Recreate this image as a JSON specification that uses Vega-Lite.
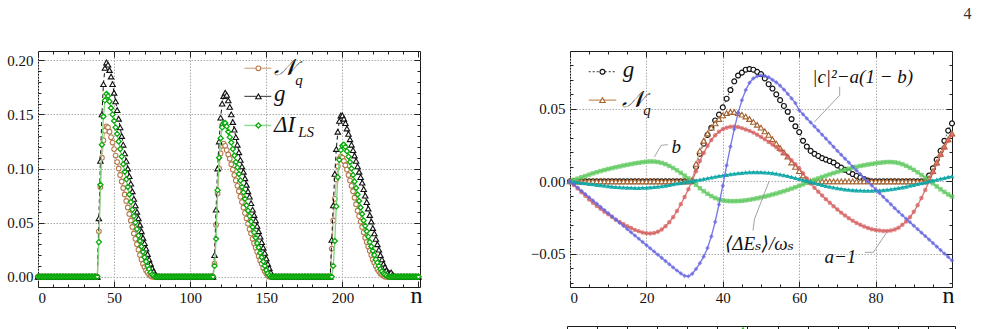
{
  "$schema": "https://vega.github.io/schema/vega-lite/v6.json",
  "background": "white",
  "padding": {"left": 6, "top": 6, "right": 5, "bottom": 5},
  "title": {"text": "4", "anchor": "end", "frame": "bounds", "font": "Liberation Serif, Times New Roman, DejaVu Serif, serif", "fontSize": 16, "fontWeight": "normal", "color": "#333", "dx": 14, "offset": 28},
  "config": {
    "view": {"stroke": "#1a1a1a", "strokeWidth": 1},
    "font": "Liberation Serif, Times New Roman, DejaVu Serif, serif",
    "axis": {"labelFont": "Liberation Serif, Times New Roman, DejaVu Serif, serif", "titleFont": "Liberation Serif, Times New Roman, DejaVu Serif, serif"},
    "text": {"font": "Liberation Serif, Times New Roman, DejaVu Serif, serif"}
  },
  "spacing": 16,
  "datasets": {
    "pulses": [
      {"n":0,"Nq":0,"g":0,"dI":0},{"n":1,"Nq":0,"g":0,"dI":0},{"n":2,"Nq":0,"g":0,"dI":0},{"n":3,"Nq":0,"g":0,"dI":0},{"n":4,"Nq":0,"g":0,"dI":0},
      {"n":5,"Nq":0,"g":0,"dI":0},{"n":6,"Nq":0,"g":0,"dI":0},{"n":7,"Nq":0,"g":0,"dI":0},{"n":8,"Nq":0,"g":0,"dI":0},{"n":9,"Nq":0,"g":0,"dI":0},
      {"n":10,"Nq":0,"g":0,"dI":0},{"n":11,"Nq":0,"g":0,"dI":0},{"n":12,"Nq":0,"g":0,"dI":0},{"n":13,"Nq":0,"g":0,"dI":0},{"n":14,"Nq":0,"g":0,"dI":0},
      {"n":15,"Nq":0,"g":0,"dI":0},{"n":16,"Nq":0,"g":0,"dI":0},{"n":17,"Nq":0,"g":0,"dI":0},{"n":18,"Nq":0,"g":0,"dI":0},{"n":19,"Nq":0,"g":0,"dI":0},
      {"n":20,"Nq":0,"g":0,"dI":0},{"n":21,"Nq":0,"g":0,"dI":0},{"n":22,"Nq":0,"g":0,"dI":0},{"n":23,"Nq":0,"g":0,"dI":0},{"n":24,"Nq":0,"g":0,"dI":0},
      {"n":25,"Nq":0,"g":0,"dI":0},{"n":26,"Nq":0,"g":0,"dI":0},{"n":27,"Nq":0,"g":0,"dI":0},{"n":28,"Nq":0,"g":0,"dI":0},{"n":29,"Nq":0,"g":0,"dI":0},
      {"n":30,"Nq":0,"g":0,"dI":0},{"n":31,"Nq":0,"g":0,"dI":0},{"n":32,"Nq":0,"g":0,"dI":0},{"n":33,"Nq":0,"g":0,"dI":0},{"n":34,"Nq":0,"g":0,"dI":0},
      {"n":35,"Nq":0,"g":0,"dI":0},{"n":36,"Nq":0,"g":0,"dI":0},{"n":37,"Nq":0,"g":0,"dI":0},{"n":38,"Nq":0,"g":0,"dI":0},{"n":39,"Nq":0,"g":0,"dI":0},
      {"n":40,"Nq":0.042,"g":0.054,"dI":0.032},{"n":41,"Nq":0.083,"g":0.107,"dI":0.085},{"n":42,"Nq":0.110,"g":0.150,"dI":0.122},
      {"n":43,"Nq":0.126,"g":0.178,"dI":0.148},{"n":44,"Nq":0.135,"g":0.193,"dI":0.163},{"n":45,"Nq":0.139,"g":0.198,"dI":0.169},
      {"n":46,"Nq":0.138,"g":0.196,"dI":0.167},{"n":47,"Nq":0.134,"g":0.191,"dI":0.162},{"n":48,"Nq":0.129,"g":0.185,"dI":0.156},
      {"n":49,"Nq":0.124,"g":0.178,"dI":0.150},{"n":50,"Nq":0.118,"g":0.170,"dI":0.144},{"n":51,"Nq":0.112,"g":0.162,"dI":0.138},
      {"n":52,"Nq":0.106,"g":0.154,"dI":0.132},{"n":53,"Nq":0.100,"g":0.146,"dI":0.125},{"n":54,"Nq":0.094,"g":0.138,"dI":0.118},
      {"n":55,"Nq":0.088,"g":0.130,"dI":0.111},{"n":56,"Nq":0.082,"g":0.122,"dI":0.104},{"n":57,"Nq":0.076,"g":0.114,"dI":0.097},
      {"n":58,"Nq":0.070,"g":0.107,"dI":0.090},{"n":59,"Nq":0.064,"g":0.100,"dI":0.083},{"n":60,"Nq":0.058,"g":0.093,"dI":0.076},
      {"n":61,"Nq":0.052,"g":0.086,"dI":0.069},{"n":62,"Nq":0.046,"g":0.079,"dI":0.062},{"n":63,"Nq":0.040,"g":0.072,"dI":0.056},
      {"n":64,"Nq":0.035,"g":0.066,"dI":0.050},{"n":65,"Nq":0.030,"g":0.060,"dI":0.044},{"n":66,"Nq":0.025,"g":0.054,"dI":0.038},
      {"n":67,"Nq":0.020,"g":0.048,"dI":0.033},{"n":68,"Nq":0.016,"g":0.042,"dI":0.028},{"n":69,"Nq":0.012,"g":0.036,"dI":0.023},
      {"n":70,"Nq":0.009,"g":0.031,"dI":0.018},{"n":71,"Nq":0.006,"g":0.026,"dI":0.014},{"n":72,"Nq":0.004,"g":0.021,"dI":0.010},
      {"n":73,"Nq":0.002,"g":0.016,"dI":0.007},{"n":74,"Nq":0.001,"g":0.012,"dI":0.004},{"n":75,"Nq":0,"g":0.008,"dI":0.002},
      {"n":76,"Nq":0,"g":0.005,"dI":0.001},{"n":77,"Nq":0,"g":0.002,"dI":0},{"n":78,"Nq":0,"g":0.001,"dI":0},
      {"n":79,"Nq":0,"g":0,"dI":0},{"n":80,"Nq":0,"g":0,"dI":0},{"n":81,"Nq":0,"g":0,"dI":0},{"n":82,"Nq":0,"g":0,"dI":0},{"n":83,"Nq":0,"g":0,"dI":0},
      {"n":84,"Nq":0,"g":0,"dI":0},{"n":85,"Nq":0,"g":0,"dI":0},{"n":86,"Nq":0,"g":0,"dI":0},{"n":87,"Nq":0,"g":0,"dI":0},{"n":88,"Nq":0,"g":0,"dI":0},
      {"n":89,"Nq":0,"g":0,"dI":0},{"n":90,"Nq":0,"g":0,"dI":0},{"n":91,"Nq":0,"g":0,"dI":0},{"n":92,"Nq":0,"g":0,"dI":0},{"n":93,"Nq":0,"g":0,"dI":0},
      {"n":94,"Nq":0,"g":0,"dI":0},{"n":95,"Nq":0,"g":0,"dI":0},{"n":96,"Nq":0,"g":0,"dI":0},{"n":97,"Nq":0,"g":0,"dI":0},{"n":98,"Nq":0,"g":0,"dI":0},
      {"n":99,"Nq":0,"g":0,"dI":0},{"n":100,"Nq":0,"g":0,"dI":0},{"n":101,"Nq":0,"g":0,"dI":0},{"n":102,"Nq":0,"g":0,"dI":0},{"n":103,"Nq":0,"g":0,"dI":0},
      {"n":104,"Nq":0,"g":0,"dI":0},{"n":105,"Nq":0,"g":0,"dI":0},{"n":106,"Nq":0,"g":0,"dI":0},{"n":107,"Nq":0,"g":0,"dI":0},{"n":108,"Nq":0,"g":0,"dI":0},
      {"n":109,"Nq":0,"g":0,"dI":0},{"n":110,"Nq":0,"g":0,"dI":0},{"n":111,"Nq":0,"g":0,"dI":0},{"n":112,"Nq":0,"g":0,"dI":0},{"n":113,"Nq":0,"g":0,"dI":0},
      {"n":114,"Nq":0,"g":0,"dI":0},{"n":115,"Nq":0,"g":0,"dI":0},
      {"n":116,"Nq":0.012,"g":0.020,"dI":0.010},{"n":117,"Nq":0.048,"g":0.062,"dI":0.035},{"n":118,"Nq":0.077,"g":0.100,"dI":0.080},
      {"n":119,"Nq":0.100,"g":0.125,"dI":0.110},{"n":120,"Nq":0.114,"g":0.147,"dI":0.128},{"n":121,"Nq":0.121,"g":0.160,"dI":0.138},
      {"n":122,"Nq":0.123,"g":0.167,"dI":0.142},{"n":123,"Nq":0.121,"g":0.170,"dI":0.142},{"n":124,"Nq":0.117,"g":0.168,"dI":0.139},
      {"n":125,"Nq":0.113,"g":0.163,"dI":0.134},{"n":126,"Nq":0.109,"g":0.157,"dI":0.129},{"n":127,"Nq":0.104,"g":0.150,"dI":0.124},
      {"n":128,"Nq":0.099,"g":0.143,"dI":0.118},{"n":129,"Nq":0.094,"g":0.136,"dI":0.112},{"n":130,"Nq":0.089,"g":0.129,"dI":0.106},
      {"n":131,"Nq":0.084,"g":0.122,"dI":0.101},{"n":132,"Nq":0.079,"g":0.115,"dI":0.095},{"n":133,"Nq":0.074,"g":0.108,"dI":0.089},
      {"n":134,"Nq":0.069,"g":0.102,"dI":0.083},{"n":135,"Nq":0.064,"g":0.097,"dI":0.078},{"n":136,"Nq":0.059,"g":0.091,"dI":0.072},
      {"n":137,"Nq":0.054,"g":0.085,"dI":0.066},{"n":138,"Nq":0.049,"g":0.079,"dI":0.061},{"n":139,"Nq":0.044,"g":0.074,"dI":0.056},
      {"n":140,"Nq":0.040,"g":0.068,"dI":0.051},{"n":141,"Nq":0.035,"g":0.062,"dI":0.046},{"n":142,"Nq":0.031,"g":0.057,"dI":0.041},
      {"n":143,"Nq":0.027,"g":0.052,"dI":0.036},{"n":144,"Nq":0.023,"g":0.047,"dI":0.031},{"n":145,"Nq":0.019,"g":0.042,"dI":0.027},
      {"n":146,"Nq":0.015,"g":0.037,"dI":0.022},{"n":147,"Nq":0.012,"g":0.032,"dI":0.018},{"n":148,"Nq":0.008,"g":0.027,"dI":0.014},
      {"n":149,"Nq":0.005,"g":0.022,"dI":0.010},{"n":150,"Nq":0.003,"g":0.017,"dI":0.006},{"n":151,"Nq":0.001,"g":0.012,"dI":0.003},
      {"n":152,"Nq":0,"g":0.008,"dI":0.001},{"n":153,"Nq":0,"g":0.004,"dI":0},{"n":154,"Nq":0,"g":0.001,"dI":0},
      {"n":155,"Nq":0,"g":0,"dI":0},{"n":156,"Nq":0,"g":0,"dI":0},{"n":157,"Nq":0,"g":0,"dI":0},{"n":158,"Nq":0,"g":0,"dI":0},{"n":159,"Nq":0,"g":0,"dI":0},
      {"n":160,"Nq":0,"g":0,"dI":0},{"n":161,"Nq":0,"g":0,"dI":0},{"n":162,"Nq":0,"g":0,"dI":0},{"n":163,"Nq":0,"g":0,"dI":0},{"n":164,"Nq":0,"g":0,"dI":0},
      {"n":165,"Nq":0,"g":0,"dI":0},{"n":166,"Nq":0,"g":0,"dI":0},{"n":167,"Nq":0,"g":0,"dI":0},{"n":168,"Nq":0,"g":0,"dI":0},{"n":169,"Nq":0,"g":0,"dI":0},
      {"n":170,"Nq":0,"g":0,"dI":0},{"n":171,"Nq":0,"g":0,"dI":0},{"n":172,"Nq":0,"g":0,"dI":0},{"n":173,"Nq":0,"g":0,"dI":0},{"n":174,"Nq":0,"g":0,"dI":0},
      {"n":175,"Nq":0,"g":0,"dI":0},{"n":176,"Nq":0,"g":0,"dI":0},{"n":177,"Nq":0,"g":0,"dI":0},{"n":178,"Nq":0,"g":0,"dI":0},{"n":179,"Nq":0,"g":0,"dI":0},
      {"n":180,"Nq":0,"g":0,"dI":0},{"n":181,"Nq":0,"g":0,"dI":0},{"n":182,"Nq":0,"g":0,"dI":0},{"n":183,"Nq":0,"g":0,"dI":0},{"n":184,"Nq":0,"g":0,"dI":0},
      {"n":185,"Nq":0,"g":0,"dI":0},{"n":186,"Nq":0,"g":0,"dI":0},{"n":187,"Nq":0,"g":0,"dI":0},{"n":188,"Nq":0,"g":0,"dI":0},{"n":189,"Nq":0,"g":0,"dI":0},
      {"n":190,"Nq":0,"g":0,"dI":0},{"n":191,"Nq":0,"g":0,"dI":0},{"n":192,"Nq":0,"g":0,"dI":0},
      {"n":193,"Nq":0.026,"g":0.034,"dI":0},{"n":194,"Nq":0.052,"g":0.066,"dI":0.010},{"n":195,"Nq":0.072,"g":0.095,"dI":0.033},
      {"n":196,"Nq":0.090,"g":0.118,"dI":0.065},{"n":197,"Nq":0.102,"g":0.134,"dI":0.092},{"n":198,"Nq":0.109,"g":0.144,"dI":0.108},
      {"n":199,"Nq":0.111,"g":0.149,"dI":0.117},{"n":200,"Nq":0.110,"g":0.149,"dI":0.121},{"n":201,"Nq":0.107,"g":0.146,"dI":0.122},
      {"n":202,"Nq":0.103,"g":0.142,"dI":0.120},{"n":203,"Nq":0.099,"g":0.137,"dI":0.116},{"n":204,"Nq":0.094,"g":0.132,"dI":0.111},
      {"n":205,"Nq":0.089,"g":0.127,"dI":0.106},{"n":206,"Nq":0.084,"g":0.122,"dI":0.100},{"n":207,"Nq":0.079,"g":0.117,"dI":0.094},
      {"n":208,"Nq":0.073,"g":0.112,"dI":0.088},{"n":209,"Nq":0.067,"g":0.107,"dI":0.082},{"n":210,"Nq":0.061,"g":0.102,"dI":0.076},
      {"n":211,"Nq":0.056,"g":0.097,"dI":0.070},{"n":212,"Nq":0.051,"g":0.092,"dI":0.064},{"n":213,"Nq":0.046,"g":0.087,"dI":0.058},
      {"n":214,"Nq":0.041,"g":0.081,"dI":0.052},{"n":215,"Nq":0.036,"g":0.075,"dI":0.047},{"n":216,"Nq":0.032,"g":0.069,"dI":0.042},
      {"n":217,"Nq":0.028,"g":0.063,"dI":0.037},{"n":218,"Nq":0.024,"g":0.057,"dI":0.032},{"n":219,"Nq":0.020,"g":0.051,"dI":0.028},
      {"n":220,"Nq":0.016,"g":0.045,"dI":0.024},{"n":221,"Nq":0.013,"g":0.040,"dI":0.020},{"n":222,"Nq":0.010,"g":0.035,"dI":0.016},
      {"n":223,"Nq":0.007,"g":0.030,"dI":0.013},{"n":224,"Nq":0.005,"g":0.025,"dI":0.010},{"n":225,"Nq":0.003,"g":0.020,"dI":0.007},
      {"n":226,"Nq":0.002,"g":0.016,"dI":0.005},{"n":227,"Nq":0.001,"g":0.012,"dI":0.003},{"n":228,"Nq":0,"g":0.009,"dI":0.002},
      {"n":229,"Nq":0,"g":0.006,"dI":0.001},{"n":230,"Nq":0,"g":0.004,"dI":0},{"n":231,"Nq":0,"g":0.003,"dI":0},
      {"n":232,"Nq":0,"g":0.004,"dI":0},{"n":233,"Nq":0,"g":0.002,"dI":0},
      {"n":234,"Nq":0,"g":0,"dI":0},{"n":235,"Nq":0,"g":0,"dI":0},{"n":236,"Nq":0,"g":0,"dI":0},{"n":237,"Nq":0,"g":0,"dI":0},{"n":238,"Nq":0,"g":0,"dI":0},
      {"n":239,"Nq":0,"g":0,"dI":0},{"n":240,"Nq":0,"g":0,"dI":0},{"n":241,"Nq":0,"g":0,"dI":0},{"n":242,"Nq":0,"g":0,"dI":0},{"n":243,"Nq":0,"g":0,"dI":0},
      {"n":244,"Nq":0,"g":0,"dI":0},{"n":245,"Nq":0,"g":0,"dI":0},{"n":246,"Nq":0,"g":0,"dI":0},{"n":247,"Nq":0,"g":0,"dI":0},{"n":248,"Nq":0,"g":0,"dI":0},
      {"n":249,"Nq":0,"g":0,"dI":0},{"n":250,"Nq":0,"g":0,"dI":0}
    ],
    "cycle": [
      {"n":0,"g":0,"Nq":0,"b":0,"a":0,"c":0,"E":0},
      {"n":1,"g":0,"Nq":0,"b":0.001,"a":-0.0025,"c":-0.0022,"E":-0.0003},
      {"n":2,"g":0,"Nq":0,"b":0.0019,"a":-0.005,"c":-0.0044,"E":-0.0006},
      {"n":3,"g":0,"Nq":0,"b":0.0028,"a":-0.0075,"c":-0.0066,"E":-0.001},
      {"n":4,"g":0,"Nq":0,"b":0.0037,"a":-0.01,"c":-0.0088,"E":-0.0013},
      {"n":5,"g":0,"Nq":0,"b":0.0046,"a":-0.0125,"c":-0.011,"E":-0.0017},
      {"n":6,"g":0,"Nq":0,"b":0.0055,"a":-0.0148,"c":-0.0132,"E":-0.002},
      {"n":7,"g":0,"Nq":0,"b":0.0063,"a":-0.017,"c":-0.0154,"E":-0.0024},
      {"n":8,"g":0,"Nq":0,"b":0.0071,"a":-0.019,"c":-0.0176,"E":-0.0027},
      {"n":9,"g":0,"Nq":0,"b":0.0078,"a":-0.021,"c":-0.0198,"E":-0.003},
      {"n":10,"g":0,"Nq":0,"b":0.0085,"a":-0.0228,"c":-0.022,"E":-0.0033},
      {"n":11,"g":0,"Nq":0,"b":0.0091,"a":-0.0246,"c":-0.0242,"E":-0.0036},
      {"n":12,"g":0,"Nq":0,"b":0.0097,"a":-0.0265,"c":-0.0264,"E":-0.0038},
      {"n":13,"g":0,"Nq":0,"b":0.0103,"a":-0.028,"c":-0.0286,"E":-0.004},
      {"n":14,"g":0,"Nq":0,"b":0.0109,"a":-0.0295,"c":-0.0308,"E":-0.0042},
      {"n":15,"g":0,"Nq":0,"b":0.0114,"a":-0.031,"c":-0.033,"E":-0.0043},
      {"n":16,"g":0,"Nq":0,"b":0.0119,"a":-0.0322,"c":-0.0352,"E":-0.0044},
      {"n":17,"g":0,"Nq":0,"b":0.0124,"a":-0.0335,"c":-0.0374,"E":-0.0045},
      {"n":18,"g":0,"Nq":0,"b":0.0128,"a":-0.0345,"c":-0.0396,"E":-0.0045},
      {"n":19,"g":0,"Nq":0,"b":0.0132,"a":-0.0353,"c":-0.0418,"E":-0.0044},
      {"n":20,"g":0,"Nq":0,"b":0.0135,"a":-0.0358,"c":-0.044,"E":-0.0043},
      {"n":21,"g":0,"Nq":0,"b":0.0137,"a":-0.036,"c":-0.0462,"E":-0.0041},
      {"n":22,"g":0,"Nq":0,"b":0.0136,"a":-0.0357,"c":-0.0484,"E":-0.0039},
      {"n":23,"g":0,"Nq":0,"b":0.0133,"a":-0.0348,"c":-0.0506,"E":-0.0036},
      {"n":24,"g":0,"Nq":0,"b":0.0127,"a":-0.0333,"c":-0.0528,"E":-0.0033},
      {"n":25,"g":0,"Nq":0,"b":0.0118,"a":-0.031,"c":-0.055,"E":-0.0029},
      {"n":26,"g":0,"Nq":0,"b":0.0106,"a":-0.0282,"c":-0.0572,"E":-0.0025},
      {"n":27,"g":0,"Nq":0,"b":0.0092,"a":-0.0247,"c":-0.0594,"E":-0.002},
      {"n":28,"g":0,"Nq":0,"b":0.0076,"a":-0.0205,"c":-0.0615,"E":-0.0015},
      {"n":29,"g":0,"Nq":0,"b":0.0058,"a":-0.0158,"c":-0.0635,"E":-0.001},
      {"n":30,"g":0,"Nq":0,"b":0.0039,"a":-0.0108,"c":-0.0652,"E":-0.0006},
      {"n":31,"g":0,"Nq":0,"b":0.002,"a":-0.0055,"c":-0.0655,"E":-0.0002},
      {"n":32,"g":0,"Nq":0.001,"b":0,"a":0.0005,"c":-0.0638,"E":0.0002},
      {"n":33,"g":0.010,"Nq":0.012,"b":-0.0024,"a":0.007,"c":-0.0605,"E":0.0007},
      {"n":34,"g":0.019,"Nq":0.021,"b":-0.0048,"a":0.014,"c":-0.0565,"E":0.0012},
      {"n":35,"g":0.026,"Nq":0.028,"b":-0.0068,"a":0.0195,"c":-0.052,"E":0.0017},
      {"n":36,"g":0.032,"Nq":0.033,"b":-0.0086,"a":0.0245,"c":-0.046,"E":0.0022},
      {"n":37,"g":0.037,"Nq":0.037,"b":-0.0102,"a":0.0285,"c":-0.038,"E":0.0027},
      {"n":38,"g":0.042,"Nq":0.040,"b":-0.0115,"a":0.0318,"c":-0.028,"E":0.0032},
      {"n":39,"g":0.046,"Nq":0.043,"b":-0.0125,"a":0.0342,"c":-0.016,"E":0.0037},
      {"n":40,"g":0.051,"Nq":0.0455,"b":-0.0131,"a":0.036,"c":-0.003,"E":0.0041},
      {"n":41,"g":0.057,"Nq":0.047,"b":-0.0135,"a":0.037,"c":0.011,"E":0.0045},
      {"n":42,"g":0.063,"Nq":0.048,"b":-0.0137,"a":0.0377,"c":0.024,"E":0.0049},
      {"n":43,"g":0.069,"Nq":0.0478,"b":-0.0137,"a":0.0378,"c":0.036,"E":0.0053},
      {"n":44,"g":0.073,"Nq":0.047,"b":-0.0136,"a":0.0374,"c":0.047,"E":0.0056},
      {"n":45,"g":0.075,"Nq":0.046,"b":-0.0134,"a":0.0367,"c":0.056,"E":0.0059},
      {"n":46,"g":0.077,"Nq":0.0447,"b":-0.0131,"a":0.0358,"c":0.063,"E":0.0061},
      {"n":47,"g":0.0775,"Nq":0.043,"b":-0.0127,"a":0.0348,"c":0.068,"E":0.0063},
      {"n":48,"g":0.077,"Nq":0.041,"b":-0.0122,"a":0.0336,"c":0.071,"E":0.0064},
      {"n":49,"g":0.0755,"Nq":0.039,"b":-0.0117,"a":0.0322,"c":0.0725,"E":0.0064},
      {"n":50,"g":0.074,"Nq":0.037,"b":-0.0111,"a":0.0306,"c":0.073,"E":0.0063},
      {"n":51,"g":0.071,"Nq":0.0345,"b":-0.0105,"a":0.029,"c":0.0727,"E":0.0062},
      {"n":52,"g":0.067,"Nq":0.032,"b":-0.0098,"a":0.0272,"c":0.0718,"E":0.006},
      {"n":53,"g":0.064,"Nq":0.029,"b":-0.0091,"a":0.0254,"c":0.070,"E":0.0057},
      {"n":54,"g":0.060,"Nq":0.026,"b":-0.0084,"a":0.0235,"c":0.0683,"E":0.0053},
      {"n":55,"g":0.056,"Nq":0.023,"b":-0.0076,"a":0.0214,"c":0.066,"E":0.0048},
      {"n":56,"g":0.052,"Nq":0.020,"b":-0.0068,"a":0.0192,"c":0.0633,"E":0.0043},
      {"n":57,"g":0.048,"Nq":0.017,"b":-0.0059,"a":0.017,"c":0.0603,"E":0.0037},
      {"n":58,"g":0.043,"Nq":0.013,"b":-0.005,"a":0.0145,"c":0.0572,"E":0.0031},
      {"n":59,"g":0.038,"Nq":0.010,"b":-0.0041,"a":0.0118,"c":0.054,"E":0.0024},
      {"n":60,"g":0.034,"Nq":0.007,"b":-0.0031,"a":0.009,"c":0.049,"E":0.0017},
      {"n":61,"g":0.028,"Nq":0.004,"b":-0.0021,"a":0.0055,"c":0.0462,"E":0.001},
      {"n":62,"g":0.024,"Nq":0.001,"b":-0.001,"a":0.002,"c":0.0434,"E":0.0003},
      {"n":63,"g":0.021,"Nq":0,"b":0.0001,"a":-0.0015,"c":0.0406,"E":-0.0004},
      {"n":64,"g":0.019,"Nq":0,"b":0.0011,"a":-0.0045,"c":0.0378,"E":-0.0011},
      {"n":65,"g":0.0175,"Nq":0,"b":0.002,"a":-0.0072,"c":0.035,"E":-0.0018},
      {"n":66,"g":0.016,"Nq":0,"b":0.003,"a":-0.0098,"c":0.0322,"E":-0.0025},
      {"n":67,"g":0.015,"Nq":0,"b":0.0039,"a":-0.0123,"c":0.0294,"E":-0.0031},
      {"n":68,"g":0.014,"Nq":0,"b":0.0048,"a":-0.0148,"c":0.0266,"E":-0.0037},
      {"n":69,"g":0.013,"Nq":0,"b":0.0057,"a":-0.0172,"c":0.0238,"E":-0.0042},
      {"n":70,"g":0.011,"Nq":0,"b":0.0065,"a":-0.0195,"c":0.021,"E":-0.0047},
      {"n":71,"g":0.0095,"Nq":0,"b":0.0073,"a":-0.0216,"c":0.0183,"E":-0.0051},
      {"n":72,"g":0.008,"Nq":0,"b":0.008,"a":-0.0236,"c":0.0156,"E":-0.0055},
      {"n":73,"g":0.0065,"Nq":0,"b":0.0087,"a":-0.0255,"c":0.0129,"E":-0.0058},
      {"n":74,"g":0.005,"Nq":0,"b":0.0094,"a":-0.0272,"c":0.0102,"E":-0.006},
      {"n":75,"g":0.0037,"Nq":0,"b":0.01,"a":-0.0287,"c":0.0075,"E":-0.0062},
      {"n":76,"g":0.0025,"Nq":0,"b":0.0106,"a":-0.03,"c":0.0049,"E":-0.0063},
      {"n":77,"g":0.0015,"Nq":0,"b":0.0111,"a":-0.0312,"c":0.0023,"E":-0.0064},
      {"n":78,"g":0.0005,"Nq":0,"b":0.0116,"a":-0.0322,"c":-0.0003,"E":-0.0064},
      {"n":79,"g":0,"Nq":0,"b":0.012,"a":-0.033,"c":-0.0029,"E":-0.0064},
      {"n":80,"g":0,"Nq":0,"b":0.0124,"a":-0.0336,"c":-0.0055,"E":-0.0063},
      {"n":81,"g":0,"Nq":0,"b":0.0128,"a":-0.034,"c":-0.0081,"E":-0.0062},
      {"n":82,"g":0,"Nq":0,"b":0.0131,"a":-0.0342,"c":-0.0107,"E":-0.006},
      {"n":83,"g":0,"Nq":0,"b":0.0133,"a":-0.0343,"c":-0.0133,"E":-0.0057},
      {"n":84,"g":0,"Nq":0,"b":0.0133,"a":-0.034,"c":-0.0159,"E":-0.0054},
      {"n":85,"g":0,"Nq":0,"b":0.0131,"a":-0.0333,"c":-0.0185,"E":-0.005},
      {"n":86,"g":0,"Nq":0,"b":0.0126,"a":-0.032,"c":-0.021,"E":-0.0046},
      {"n":87,"g":0,"Nq":0,"b":0.0118,"a":-0.03,"c":-0.0234,"E":-0.0041},
      {"n":88,"g":0,"Nq":0,"b":0.0107,"a":-0.0277,"c":-0.0258,"E":-0.0036},
      {"n":89,"g":0,"Nq":0,"b":0.0094,"a":-0.0248,"c":-0.0282,"E":-0.003},
      {"n":90,"g":0,"Nq":0,"b":0.0079,"a":-0.021,"c":-0.0306,"E":-0.0024},
      {"n":91,"g":0,"Nq":0,"b":0.0062,"a":-0.0165,"c":-0.033,"E":-0.0018},
      {"n":92,"g":0,"Nq":0,"b":0.0044,"a":-0.0115,"c":-0.0354,"E":-0.0012},
      {"n":93,"g":0,"Nq":0,"b":0.0025,"a":-0.006,"c":-0.0378,"E":-0.0006},
      {"n":94,"g":0.004,"Nq":0.002,"b":0.0006,"a":0,"c":-0.0402,"E":0},
      {"n":95,"g":0.009,"Nq":0.007,"b":-0.0014,"a":0.006,"c":-0.0426,"E":0.0006},
      {"n":96,"g":0.015,"Nq":0.013,"b":-0.0035,"a":0.012,"c":-0.045,"E":0.0012},
      {"n":97,"g":0.021,"Nq":0.019,"b":-0.0055,"a":0.018,"c":-0.0474,"E":0.0018},
      {"n":98,"g":0.028,"Nq":0.024,"b":-0.0073,"a":0.023,"c":-0.0498,"E":0.0024},
      {"n":99,"g":0.035,"Nq":0.029,"b":-0.009,"a":0.028,"c":-0.0522,"E":0.003},
      {"n":100,"g":0.040,"Nq":0.033,"b":-0.0105,"a":0.032,"c":-0.0546,"E":0.0035}
    ],
    "leftKey": [
      {"s":"Nq","n":135.6,"v":0.1926,"part":"end"},{"s":"Nq","n":144.8,"v":0.1926,"part":"mid"},{"s":"Nq","n":153.3,"v":0.1926,"part":"end"},
      {"s":"g","n":135.6,"v":0.1667,"part":"end"},{"s":"g","n":144.8,"v":0.1667,"part":"mid"},{"s":"g","n":153.3,"v":0.1667,"part":"end"},
      {"s":"dI","n":135.6,"v":0.1398,"part":"end"},{"s":"dI","n":144.8,"v":0.1398,"part":"mid"},{"s":"dI","n":153.3,"v":0.1398,"part":"end"}
    ],
    "leftKeyText": [
      {"t":"𝒩","n":155,"v":0.1926,"part":"main"},
      {"t":"q","n":169,"v":0.1815,"part":"sub"},
      {"t":"g","n":155,"v":0.1685,"part":"main"},
      {"t":"ΔI","n":155,"v":0.1405,"part":"main"},
      {"t":"LS","n":171,"v":0.1335,"part":"sub"}
    ],
    "rightKey": [
      {"s":"g","n":4.9,"v":0.0756,"part":"end"},{"s":"g","n":8.5,"v":0.0756,"part":"mid"},{"s":"g","n":12.1,"v":0.0756,"part":"end"},
      {"s":"Nq","n":4.9,"v":0.056,"part":"end"},{"s":"Nq","n":8.5,"v":0.056,"part":"mid"},{"s":"Nq","n":12.1,"v":0.056,"part":"end"}
    ],
    "rightKeyText": [
      {"t":"g","n":13.8,"v":0.0768,"part":"main"},
      {"t":"𝒩","n":13.6,"v":0.056,"part":"main"},
      {"t":"q","n":19.2,"v":0.0495,"part":"sub"}
    ],
    "notes": [
      {"t":"b","n":27.8,"v":0.0237},
      {"t":"|c|²−a(1 − b)","n":76.6,"v":0.0722},
      {"t":"⟨ΔEₛ⟩/ωₛ","n":49.6,"v":-0.0433},
      {"t":"a−1","n":70.8,"v":-0.0525}
    ],
    "leaders": [
      {"id":"b","i":0,"n":22.1,"v":0.0168},{"id":"b","i":1,"n":23.85,"v":0.0248},{"id":"b","i":2,"n":25.6,"v":0.0253},
      {"id":"c","i":0,"n":70.6,"v":0.0652},{"id":"c","i":1,"n":70.6,"v":0.0594},{"id":"c","i":2,"n":64.0,"v":0.041},
      {"id":"E","i":0,"n":47.9,"v":-0.034},{"id":"E","i":1,"n":48.3,"v":-0.026},{"id":"E","i":2,"n":52.1,"v":-0.0001},
      {"id":"a","i":0,"n":77.2,"v":-0.049},{"id":"a","i":1,"n":79.4,"v":-0.049},{"id":"a","i":2,"n":82.9,"v":-0.0352}
    ],
    "lower": [
      {"n":58.5,"v":0.95}
    ]
  },
  "vconcat": [
    {
      "spacing": 104,
      "hconcat": [
        {
          "width": 382,
          "height": 236,
          "layer": [
            {
              "data": {"name": "pulses"},
              "mark": {"type": "line", "color": "#d9b99c", "strokeWidth": 1.3},
              "encoding": {
                "x": {"field": "n", "type": "quantitative", "scale": {"domain": [0, 251], "nice": false, "zero": false},
                  "axis": {"orient": "bottom", "values": [0, 50, 100, 150, 200], "format": "d", "ticks": false, "domain": false,
                    "grid": true, "gridColor": "#aaaaaa", "gridDash": [1.5, 1.5], "gridWidth": 1,
                    "labelFontSize": 15, "labelColor": "#111", "labelPadding": 3,
                    "title": "n", "titleFontSize": 24, "titleFontWeight": "normal", "titleColor": "#111",
                    "titleAnchor": "end", "titleAlign": "right", "titleBaseline": "alphabetic", "titleX": 384, "titleY": 15}},
                "y": {"field": "Nq", "type": "quantitative", "scale": {"domain": [-0.0095, 0.2086], "nice": false, "zero": false},
                  "axis": {"orient": "left", "values": [0, 0.05, 0.1, 0.15, 0.2], "format": ".2f", "ticks": false, "domain": false,
                    "grid": true, "gridColor": "#aaaaaa", "gridDash": [1.5, 1.5], "gridWidth": 1,
                    "labelFontSize": 15, "labelColor": "#111", "labelPadding": 5, "title": null}}
              }
            },
            {
              "data": {"name": "pulses"},
              "mark": {"type": "point", "shape": "circle", "size": 22, "filled": true, "fill": "white", "stroke": "#b5774a", "strokeWidth": 1.1, "opacity": 1},
              "encoding": {
                "x": {"field": "n", "type": "quantitative", "scale": {"domain": [0, 251], "nice": false, "zero": false},
                  "axis": {"orient": "bottom", "values": [0, 50, 100, 150, 200, 250], "labels": false, "domain": false, "grid": false, "tickSize": -6, "tickColor": "#222", "title": null}},
                "y": {"field": "Nq", "type": "quantitative", "scale": {"domain": [-0.0095, 0.2086], "nice": false, "zero": false},
                  "axis": {"orient": "left", "values": [0, 0.05, 0.1, 0.15, 0.2], "labels": false, "domain": false, "grid": false, "tickSize": -6, "tickColor": "#222", "title": null}}
              }
            },
            {
              "data": {"name": "pulses"},
              "mark": {"type": "line", "color": "#111", "strokeWidth": 1, "strokeDash": [4, 3]},
              "encoding": {
                "x": {"field": "n", "type": "quantitative", "scale": {"domain": [0, 251], "nice": false, "zero": false},
                  "axis": {"orient": "bottom", "values": [10, 20, 30, 40, 60, 70, 80, 90, 110, 120, 130, 140, 160, 170, 180, 190, 210, 220, 230, 240], "labels": false, "domain": false, "grid": false, "tickSize": -3, "tickColor": "#222", "title": null}},
                "y": {"field": "g", "type": "quantitative", "scale": {"domain": [-0.0095, 0.2086], "nice": false, "zero": false},
                  "axis": {"orient": "left", "values": [0.01, 0.02, 0.03, 0.04, 0.06, 0.07, 0.08, 0.09, 0.11, 0.12, 0.13, 0.14, 0.16, 0.17, 0.18, 0.19], "labels": false, "domain": false, "grid": false, "tickSize": -3, "tickColor": "#222", "title": null}}
              }
            },
            {
              "data": {"name": "pulses"},
              "mark": {"type": "point", "shape": "triangle-up", "size": 30, "filled": true, "fill": "white", "stroke": "#111", "strokeWidth": 1.1, "opacity": 1},
              "encoding": {
                "x": {"field": "n", "type": "quantitative", "scale": {"domain": [0, 251], "nice": false, "zero": false},
                  "axis": {"orient": "top", "values": [0, 50, 100, 150, 200, 250], "labels": false, "domain": false, "grid": false, "tickSize": -6, "tickColor": "#222", "title": null}},
                "y": {"field": "g", "type": "quantitative", "scale": {"domain": [-0.0095, 0.2086], "nice": false, "zero": false},
                  "axis": {"orient": "right", "values": [0, 0.05, 0.1, 0.15, 0.2], "labels": false, "domain": false, "grid": false, "tickSize": -6, "tickColor": "#222", "title": null}}
              }
            },
            {
              "data": {"name": "pulses"},
              "mark": {"type": "line", "color": "#7fd67f", "strokeWidth": 1.3},
              "encoding": {
                "x": {"field": "n", "type": "quantitative", "scale": {"domain": [0, 251], "nice": false, "zero": false},
                  "axis": {"orient": "top", "values": [10, 20, 30, 40, 60, 70, 80, 90, 110, 120, 130, 140, 160, 170, 180, 190, 210, 220, 230, 240], "labels": false, "domain": false, "grid": false, "tickSize": -3, "tickColor": "#222", "title": null}},
                "y": {"field": "dI", "type": "quantitative", "scale": {"domain": [-0.0095, 0.2086], "nice": false, "zero": false},
                  "axis": {"orient": "right", "values": [0.01, 0.02, 0.03, 0.04, 0.06, 0.07, 0.08, 0.09, 0.11, 0.12, 0.13, 0.14, 0.16, 0.17, 0.18, 0.19], "labels": false, "domain": false, "grid": false, "tickSize": -3, "tickColor": "#222", "title": null}}
              }
            },
            {
              "data": {"name": "pulses"},
              "mark": {"type": "point", "shape": "diamond", "size": 26, "filled": true, "fill": "white", "stroke": "#0aaa0a", "strokeWidth": 1.3, "opacity": 1},
              "encoding": {
                "x": {"field": "n", "type": "quantitative", "scale": {"domain": [0, 251], "nice": false, "zero": false}, "axis": null},
                "y": {"field": "dI", "type": "quantitative", "scale": {"domain": [-0.0095, 0.2086], "nice": false, "zero": false}, "axis": null}
              }
            },
            {
              "data": {"name": "leftKey"},
              "transform": [{"filter": "datum.s === 'Nq'"}],
              "mark": {"type": "line", "color": "#d9b99c", "strokeWidth": 1.5},
              "encoding": {"x": {"field": "n", "type": "quantitative", "axis": null}, "y": {"field": "v", "type": "quantitative", "axis": null}}
            },
            {
              "data": {"name": "leftKey"},
              "transform": [{"filter": "datum.s === 'g'"}],
              "mark": {"type": "line", "color": "#333", "strokeWidth": 1},
              "encoding": {"x": {"field": "n", "type": "quantitative", "axis": null}, "y": {"field": "v", "type": "quantitative", "axis": null}}
            },
            {
              "data": {"name": "leftKey"},
              "transform": [{"filter": "datum.s === 'dI'"}],
              "mark": {"type": "line", "color": "#8fdc8f", "strokeWidth": 1.5},
              "encoding": {"x": {"field": "n", "type": "quantitative", "axis": null}, "y": {"field": "v", "type": "quantitative", "axis": null}}
            },
            {
              "data": {"name": "leftKey"},
              "transform": [{"filter": "datum.s === 'Nq' && datum.part === 'mid'"}],
              "mark": {"type": "point", "shape": "circle", "size": 22, "filled": true, "fill": "white", "stroke": "#b5774a", "strokeWidth": 1.1, "opacity": 1},
              "encoding": {"x": {"field": "n", "type": "quantitative", "axis": null}, "y": {"field": "v", "type": "quantitative", "axis": null}}
            },
            {
              "data": {"name": "leftKey"},
              "transform": [{"filter": "datum.s === 'g' && datum.part === 'mid'"}],
              "mark": {"type": "point", "shape": "triangle-up", "size": 30, "filled": true, "fill": "white", "stroke": "#111", "strokeWidth": 1.1, "opacity": 1},
              "encoding": {"x": {"field": "n", "type": "quantitative", "axis": null}, "y": {"field": "v", "type": "quantitative", "axis": null}}
            },
            {
              "data": {"name": "leftKey"},
              "transform": [{"filter": "datum.s === 'dI' && datum.part === 'mid'"}],
              "mark": {"type": "point", "shape": "diamond", "size": 26, "filled": true, "fill": "white", "stroke": "#0aaa0a", "strokeWidth": 1.3, "opacity": 1},
              "encoding": {"x": {"field": "n", "type": "quantitative", "axis": null}, "y": {"field": "v", "type": "quantitative", "axis": null}}
            },
            {
              "data": {"name": "leftKeyText"},
              "transform": [{"filter": "datum.part === 'main'"}],
              "mark": {"type": "text", "align": "left", "baseline": "middle", "fontStyle": "italic", "fontSize": 23, "color": "#111"},
              "encoding": {"x": {"field": "n", "type": "quantitative", "axis": null}, "y": {"field": "v", "type": "quantitative", "axis": null}, "text": {"field": "t"}}
            },
            {
              "data": {"name": "leftKeyText"},
              "transform": [{"filter": "datum.part === 'sub'"}],
              "mark": {"type": "text", "align": "left", "baseline": "middle", "fontStyle": "italic", "fontSize": 15, "color": "#111"},
              "encoding": {"x": {"field": "n", "type": "quantitative", "axis": null}, "y": {"field": "v", "type": "quantitative", "axis": null}, "text": {"field": "t"}}
            }
          ]
        },
        {
          "width": 382,
          "height": 236,
          "layer": [
            {
              "data": {"name": "cycle"},
              "mark": {"type": "line", "color": "#555", "strokeWidth": 1, "strokeDash": [2, 2]},
              "encoding": {
                "x": {"field": "n", "type": "quantitative", "scale": {"domain": [0, 100], "nice": false, "zero": false},
                  "axis": {"orient": "bottom", "values": [0, 20, 40, 60, 80], "format": "d", "ticks": false, "domain": false,
                    "grid": true, "gridColor": "#aaaaaa", "gridDash": [1.5, 1.5], "gridWidth": 1,
                    "labelFontSize": 15, "labelColor": "#111", "labelPadding": 3,
                    "title": "n", "titleFontSize": 24, "titleFontWeight": "normal", "titleColor": "#111",
                    "titleAnchor": "end", "titleAlign": "right", "titleBaseline": "alphabetic", "titleX": 384, "titleY": 15}},
                "y": {"field": "g", "type": "quantitative", "scale": {"domain": [-0.0729, 0.0899], "nice": false, "zero": false},
                  "axis": {"orient": "left", "values": [-0.05, 0, 0.05], "format": ".2f", "ticks": false, "domain": false,
                    "grid": true, "gridColor": "#aaaaaa", "gridDash": [1.5, 1.5], "gridWidth": 1,
                    "labelFontSize": 15, "labelColor": "#111", "labelPadding": 5, "title": null}}
              }
            },
            {
              "data": {"name": "cycle"},
              "mark": {"type": "point", "shape": "circle", "size": 24, "filled": true, "fill": "white", "stroke": "#111", "strokeWidth": 1.2, "opacity": 1},
              "encoding": {
                "x": {"field": "n", "type": "quantitative", "scale": {"domain": [0, 100], "nice": false, "zero": false},
                  "axis": {"orient": "bottom", "values": [0, 20, 40, 60, 80, 100], "labels": false, "domain": false, "grid": false, "tickSize": -6, "tickColor": "#222", "title": null}},
                "y": {"field": "g", "type": "quantitative", "scale": {"domain": [-0.0729, 0.0899], "nice": false, "zero": false},
                  "axis": {"orient": "left", "values": [-0.05, 0, 0.05], "labels": false, "domain": false, "grid": false, "tickSize": -6, "tickColor": "#222", "title": null}}
              }
            },
            {
              "data": {"name": "cycle"},
              "mark": {"type": "line", "color": "#d2a47c", "strokeWidth": 1.2},
              "encoding": {
                "x": {"field": "n", "type": "quantitative", "scale": {"domain": [0, 100], "nice": false, "zero": false},
                  "axis": {"orient": "bottom", "values": [5, 10, 15, 25, 30, 35, 45, 50, 55, 65, 70, 75, 85, 90, 95], "labels": false, "domain": false, "grid": false, "tickSize": -3, "tickColor": "#222", "title": null}},
                "y": {"field": "Nq", "type": "quantitative", "scale": {"domain": [-0.0729, 0.0899], "nice": false, "zero": false},
                  "axis": {"orient": "left", "values": [-0.07, -0.06, -0.04, -0.03, -0.02, -0.01, 0.01, 0.02, 0.03, 0.04, 0.06, 0.07, 0.08], "labels": false, "domain": false, "grid": false, "tickSize": -3, "tickColor": "#222", "title": null}}
              }
            },
            {
              "data": {"name": "cycle"},
              "mark": {"type": "point", "shape": "triangle-up", "size": 30, "filled": true, "fill": "white", "stroke": "#a5602c", "strokeWidth": 1.1, "opacity": 1},
              "encoding": {
                "x": {"field": "n", "type": "quantitative", "scale": {"domain": [0, 100], "nice": false, "zero": false},
                  "axis": {"orient": "top", "values": [0, 20, 40, 60, 80, 100], "labels": false, "domain": false, "grid": false, "tickSize": -6, "tickColor": "#222", "title": null}},
                "y": {"field": "Nq", "type": "quantitative", "scale": {"domain": [-0.0729, 0.0899], "nice": false, "zero": false},
                  "axis": {"orient": "right", "values": [-0.05, 0, 0.05], "labels": false, "domain": false, "grid": false, "tickSize": -6, "tickColor": "#222", "title": null}}
              }
            },
            {
              "data": {"name": "cycle"},
              "mark": {"type": "line", "color": "#77cf77", "strokeWidth": 1.4, "opacity": 0.9},
              "encoding": {
                "x": {"field": "n", "type": "quantitative", "scale": {"domain": [0, 100], "nice": false, "zero": false},
                  "axis": {"orient": "top", "values": [5, 10, 15, 25, 30, 35, 45, 50, 55, 65, 70, 75, 85, 90, 95], "labels": false, "domain": false, "grid": false, "tickSize": -3, "tickColor": "#222", "title": null}},
                "y": {"field": "b", "type": "quantitative", "scale": {"domain": [-0.0729, 0.0899], "nice": false, "zero": false},
                  "axis": {"orient": "right", "values": [-0.07, -0.06, -0.04, -0.03, -0.02, -0.01, 0.01, 0.02, 0.03, 0.04, 0.06, 0.07, 0.08], "labels": false, "domain": false, "grid": false, "tickSize": -3, "tickColor": "#222", "title": null}}
              }
            },
            {
              "data": {"name": "cycle"},
              "mark": {"type": "point", "shape": "square", "size": 20, "filled": true, "color": "#5cc85c", "opacity": 0.75},
              "encoding": {
                "x": {"field": "n", "type": "quantitative", "scale": {"domain": [0, 100], "nice": false, "zero": false}, "axis": null},
                "y": {"field": "b", "type": "quantitative", "scale": {"domain": [-0.0729, 0.0899], "nice": false, "zero": false}, "axis": null}
              }
            },
            {
              "data": {"name": "cycle"},
              "mark": {"type": "line", "color": "#d96a6a", "strokeWidth": 1.4, "opacity": 0.9},
              "encoding": {
                "x": {"field": "n", "type": "quantitative", "scale": {"domain": [0, 100], "nice": false, "zero": false}, "axis": null},
                "y": {"field": "a", "type": "quantitative", "scale": {"domain": [-0.0729, 0.0899], "nice": false, "zero": false}, "axis": null}
              }
            },
            {
              "data": {"name": "cycle"},
              "mark": {"type": "point", "shape": "circle", "size": 20, "filled": true, "color": "#d45a5a", "opacity": 0.7},
              "encoding": {
                "x": {"field": "n", "type": "quantitative", "scale": {"domain": [0, 100], "nice": false, "zero": false}, "axis": null},
                "y": {"field": "a", "type": "quantitative", "scale": {"domain": [-0.0729, 0.0899], "nice": false, "zero": false}, "axis": null}
              }
            },
            {
              "data": {"name": "cycle"},
              "mark": {"type": "line", "color": "#1aabab", "strokeWidth": 1.4},
              "encoding": {
                "x": {"field": "n", "type": "quantitative", "scale": {"domain": [0, 100], "nice": false, "zero": false}, "axis": null},
                "y": {"field": "E", "type": "quantitative", "scale": {"domain": [-0.0729, 0.0899], "nice": false, "zero": false}, "axis": null}
              }
            },
            {
              "data": {"name": "cycle"},
              "mark": {"type": "point", "shape": "triangle-up", "size": 24, "filled": true, "color": "#0aa5a5", "opacity": 0.9},
              "encoding": {
                "x": {"field": "n", "type": "quantitative", "scale": {"domain": [0, 100], "nice": false, "zero": false}, "axis": null},
                "y": {"field": "E", "type": "quantitative", "scale": {"domain": [-0.0729, 0.0899], "nice": false, "zero": false}, "axis": null}
              }
            },
            {
              "data": {"name": "cycle"},
              "mark": {"type": "line", "color": "#6d6de6", "strokeWidth": 1.4, "opacity": 0.9},
              "encoding": {
                "x": {"field": "n", "type": "quantitative", "scale": {"domain": [0, 100], "nice": false, "zero": false}, "axis": null},
                "y": {"field": "c", "type": "quantitative", "scale": {"domain": [-0.0729, 0.0899], "nice": false, "zero": false}, "axis": null}
              }
            },
            {
              "data": {"name": "cycle"},
              "mark": {"type": "point", "shape": "diamond", "size": 22, "filled": true, "color": "#6464e0", "opacity": 0.7},
              "encoding": {
                "x": {"field": "n", "type": "quantitative", "scale": {"domain": [0, 100], "nice": false, "zero": false}, "axis": null},
                "y": {"field": "c", "type": "quantitative", "scale": {"domain": [-0.0729, 0.0899], "nice": false, "zero": false}, "axis": null}
              }
            },
            {
              "data": {"name": "leaders"},
              "mark": {"type": "line", "color": "#999", "strokeWidth": 0.9},
              "encoding": {
                "x": {"field": "n", "type": "quantitative", "axis": null},
                "y": {"field": "v", "type": "quantitative", "axis": null},
                "detail": {"field": "id"},
                "order": {"field": "i"}
              }
            },
            {
              "data": {"name": "notes"},
              "mark": {"type": "text", "align": "center", "baseline": "middle", "fontStyle": "italic", "fontSize": 19, "color": "#111"},
              "encoding": {"x": {"field": "n", "type": "quantitative", "axis": null}, "y": {"field": "v", "type": "quantitative", "axis": null}, "text": {"field": "t"}}
            },
            {
              "data": {"name": "rightKey"},
              "transform": [{"filter": "datum.s === 'g'"}],
              "mark": {"type": "line", "color": "#333", "strokeWidth": 1, "strokeDash": [2, 2]},
              "encoding": {"x": {"field": "n", "type": "quantitative", "axis": null}, "y": {"field": "v", "type": "quantitative", "axis": null}}
            },
            {
              "data": {"name": "rightKey"},
              "transform": [{"filter": "datum.s === 'Nq'"}],
              "mark": {"type": "line", "color": "#d2a47c", "strokeWidth": 1.5},
              "encoding": {"x": {"field": "n", "type": "quantitative", "axis": null}, "y": {"field": "v", "type": "quantitative", "axis": null}}
            },
            {
              "data": {"name": "rightKey"},
              "transform": [{"filter": "datum.s === 'g' && datum.part === 'mid'"}],
              "mark": {"type": "point", "shape": "circle", "size": 24, "filled": true, "fill": "white", "stroke": "#111", "strokeWidth": 1.2, "opacity": 1},
              "encoding": {"x": {"field": "n", "type": "quantitative", "axis": null}, "y": {"field": "v", "type": "quantitative", "axis": null}}
            },
            {
              "data": {"name": "rightKey"},
              "transform": [{"filter": "datum.s === 'Nq' && datum.part === 'mid'"}],
              "mark": {"type": "point", "shape": "triangle-up", "size": 30, "filled": true, "fill": "white", "stroke": "#a5602c", "strokeWidth": 1.1, "opacity": 1},
              "encoding": {"x": {"field": "n", "type": "quantitative", "axis": null}, "y": {"field": "v", "type": "quantitative", "axis": null}}
            },
            {
              "data": {"name": "rightKeyText"},
              "transform": [{"filter": "datum.part === 'main'"}],
              "mark": {"type": "text", "align": "left", "baseline": "middle", "fontStyle": "italic", "fontSize": 23, "color": "#111"},
              "encoding": {"x": {"field": "n", "type": "quantitative", "axis": null}, "y": {"field": "v", "type": "quantitative", "axis": null}, "text": {"field": "t"}}
            },
            {
              "data": {"name": "rightKeyText"},
              "transform": [{"filter": "datum.part === 'sub'"}],
              "mark": {"type": "text", "align": "left", "baseline": "middle", "fontStyle": "italic", "fontSize": 15, "color": "#111"},
              "encoding": {"x": {"field": "n", "type": "quantitative", "axis": null}, "y": {"field": "v", "type": "quantitative", "axis": null}, "text": {"field": "t"}}
            }
          ]
        }
      ]
    },
    {
      "spacing": 148,
      "hconcat": [
        {
          "width": 380,
          "height": 60,
          "view": {"stroke": null},
          "data": {"values": [{}]},
          "mark": {"type": "point", "opacity": 0},
          "encoding": {}
        },
        {
          "width": 388,
          "height": 80,
          "data": {"name": "lower"},
          "mark": {"type": "point", "shape": "triangle-up", "size": 30, "filled": true, "fill": "white", "stroke": "#44bb33", "strokeWidth": 1.1, "opacity": 1},
          "encoding": {
            "x": {"field": "n", "type": "quantitative", "scale": {"domain": [0, 129], "nice": false, "zero": false},
              "axis": {"orient": "top", "values": [10, 20, 30, 40, 50, 60, 70, 80, 90, 100, 110, 120], "labels": false, "domain": false, "grid": false, "tickSize": -4, "tickColor": "#222", "title": null}},
            "y": {"field": "v", "type": "quantitative", "scale": {"domain": [0, 1], "nice": false, "zero": false}, "axis": null}
          }
        }
      ]
    }
  ]
}
